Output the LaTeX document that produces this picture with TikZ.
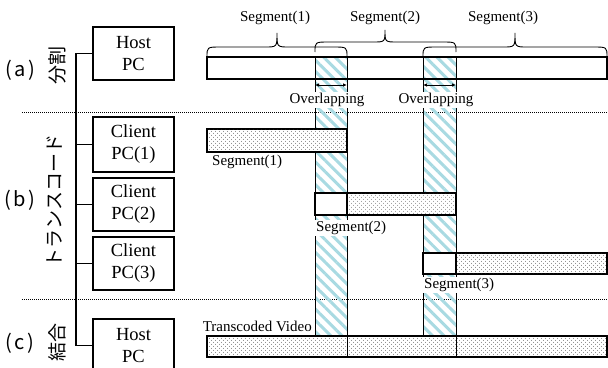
\documentclass[tikz,border=0pt]{standalone}
\usepackage{fontspec}
\setmainfont{Liberation Serif}
\newfontfamily\jpfont{Noto Sans CJK JP}
\usetikzlibrary{patterns,patterns.meta,arrows.meta}
\definecolor{hatchc}{RGB}{168,218,226}
\begin{document}
\begin{tikzpicture}[x=1pt,y=-1pt,
  pcbox/.style={draw,line width=1.1pt,minimum width=81pt,minimum height=53pt,inner sep=0pt,align=center,font=\fontsize{18.5}{22}\selectfont},
  lab/.style={font=\fontsize{15}{18}\selectfont,inner sep=1pt},
  jlab/.style={font=\jpfont\fontsize{19}{22}\selectfont,inner sep=0pt},
  plab/.style={font=\jpfont\fontsize{20}{22}\selectfont,inner sep=0pt},
  bar/.style={draw,line width=1.1pt},
  dotfill/.style={preaction={fill=white},pattern={Dots[distance=4pt,radius=0.45pt]},pattern color=black!85,
    postaction={pattern={Dots[distance=4pt,radius=0.45pt,xshift=2pt,yshift=2pt]},pattern color=black!85}},
  hatch/.style={pattern={Lines[angle=-45,distance=8pt,line width=3pt]},pattern color=hatchc},
  brace/.style={draw,line width=0.9pt},
  sep/.style={line width=0.8pt,dash pattern=on 0.8pt off 1.2pt},
  dbl/.style={{Latex[length=4pt,width=3.5pt]}-{Latex[length=4pt,width=3.5pt]},line width=0.9pt},
  wire/.style={draw,line width=1.1pt}]
\clip (0,0) rectangle (608,367);
\fill[white] (0,0) rectangle (608,367);

% separators
\draw[sep] (22,112) -- (608,112);
\draw[sep] (22,299) -- (608,299);

% overlap columns
\fill[hatch] (315,57) rectangle (347,336);
\fill[hatch] (423,57) rectangle (456,336);
\draw[line width=1pt] (315,57) -- (315,336) (347,57) -- (347,336);
\draw[line width=1pt] (423,57) -- (423,336) (456,57) -- (456,336);

% (a) source bar
\draw[bar] (207,57) rectangle (607,79);

% braces
\draw[brace] (207,57) .. controls (207,47) .. (221,47) -- (265,47) .. controls (277,47) .. (277,33)
  .. controls (277,47) .. (289,47) -- (333,47) .. controls (347,47) .. (347,57);
\draw[brace] (315,52) .. controls (315,42) .. (329,42) -- (373,42) .. controls (385,42) .. (385,30)
  .. controls (385,42) .. (397,42) -- (442,42) .. controls (456,42) .. (456,52);
\draw[brace] (423,57) .. controls (423,47) .. (437,47) -- (503,47) .. controls (515,47) .. (515,33)
  .. controls (515,47) .. (527,47) -- (593,47) .. controls (607,47) .. (607,57);
\node[lab] (s1) at (275,18) {Segment(1)};
\node[lab] (s2) at (385,18) {Segment(2)};
\node[lab] (s3) at (503,18) {Segment(3)};

% overlap arrows
\coordinate (o1l) at (315,85); \coordinate (o1r) at (347,85);
\coordinate (o2l) at (423,85); \coordinate (o2r) at (456,85);
\draw[dbl] (o1l) -- (o1r);
\draw[dbl] (o2l) -- (o2r);
\node[lab,fill=white] (ov1) at (327,100) {Overlapping};
\node[lab,fill=white] (ov2) at (436,100) {Overlapping};

% (b) client bars
\draw[bar,dotfill] (207,129) rectangle (347,152);
\node[lab,anchor=west] (cs1) at (211,162) {Segment(1)};
\draw[bar,fill=white] (315,193) rectangle (347,215);
\draw[bar,dotfill] (347,193) rectangle (456,215);
\node[lab,anchor=west,fill=white] (cs2) at (315,228) {Segment(2)};
\draw[bar,fill=white] (423,253) rectangle (456,274);
\draw[bar,dotfill] (456,253) rectangle (607,274);
\node[lab,anchor=west,fill=white] (cs3) at (423,285) {Segment(3)};

% (c) joined bar
\draw[bar,dotfill] (207,336) rectangle (607,357);
\draw[line width=1pt] (347,336) -- (347,357) (456,336) -- (456,357);
\node[lab,anchor=east] (tv) at (313,326) {Transcoded Video};

% PC boxes
\node[pcbox] (hostA) at (133.5,53.5) {Host\\PC};
\node[pcbox,minimum height=55pt] (cl1) at (133.5,144.5) {Client\\PC(1)};
\node[pcbox] (cl2) at (133.5,204.5) {Client\\PC(2)};
\node[pcbox] (cl3) at (133.5,263.5) {Client\\PC(3)};
\node[pcbox] (hostC) at (133.5,345.5) {Host\\PC};

% spine
\coordinate (sp) at (76,0);
\draw[wire] (hostA.west) -- (sp |- hostA.west) -- (sp |- hostC.west) -- (hostC.west);
\draw[wire] (sp |- cl1.west) -- (cl1.west);
\draw[wire] (sp |- cl2.west) -- (cl2.west);
\draw[wire] (sp |- cl3.west) -- (cl3.west);

% left labels
\node[plab] (la) at (20,70) {(\kern2.5pt a\kern2.5pt)};
\node[jlab,rotate=90] (ja) at (57,65) {分割};
\node[plab] (lb) at (20,200) {(\kern2.5pt b\kern2.5pt)};
\node[jlab,rotate=90] (jb) at (55,201) {トランスコード};
\node[plab] (lc) at (20,343) {(\kern2.5pt c\kern2.5pt)};
\node[jlab,rotate=90] (jc) at (57,342) {結合};
\end{tikzpicture}
\end{document}
